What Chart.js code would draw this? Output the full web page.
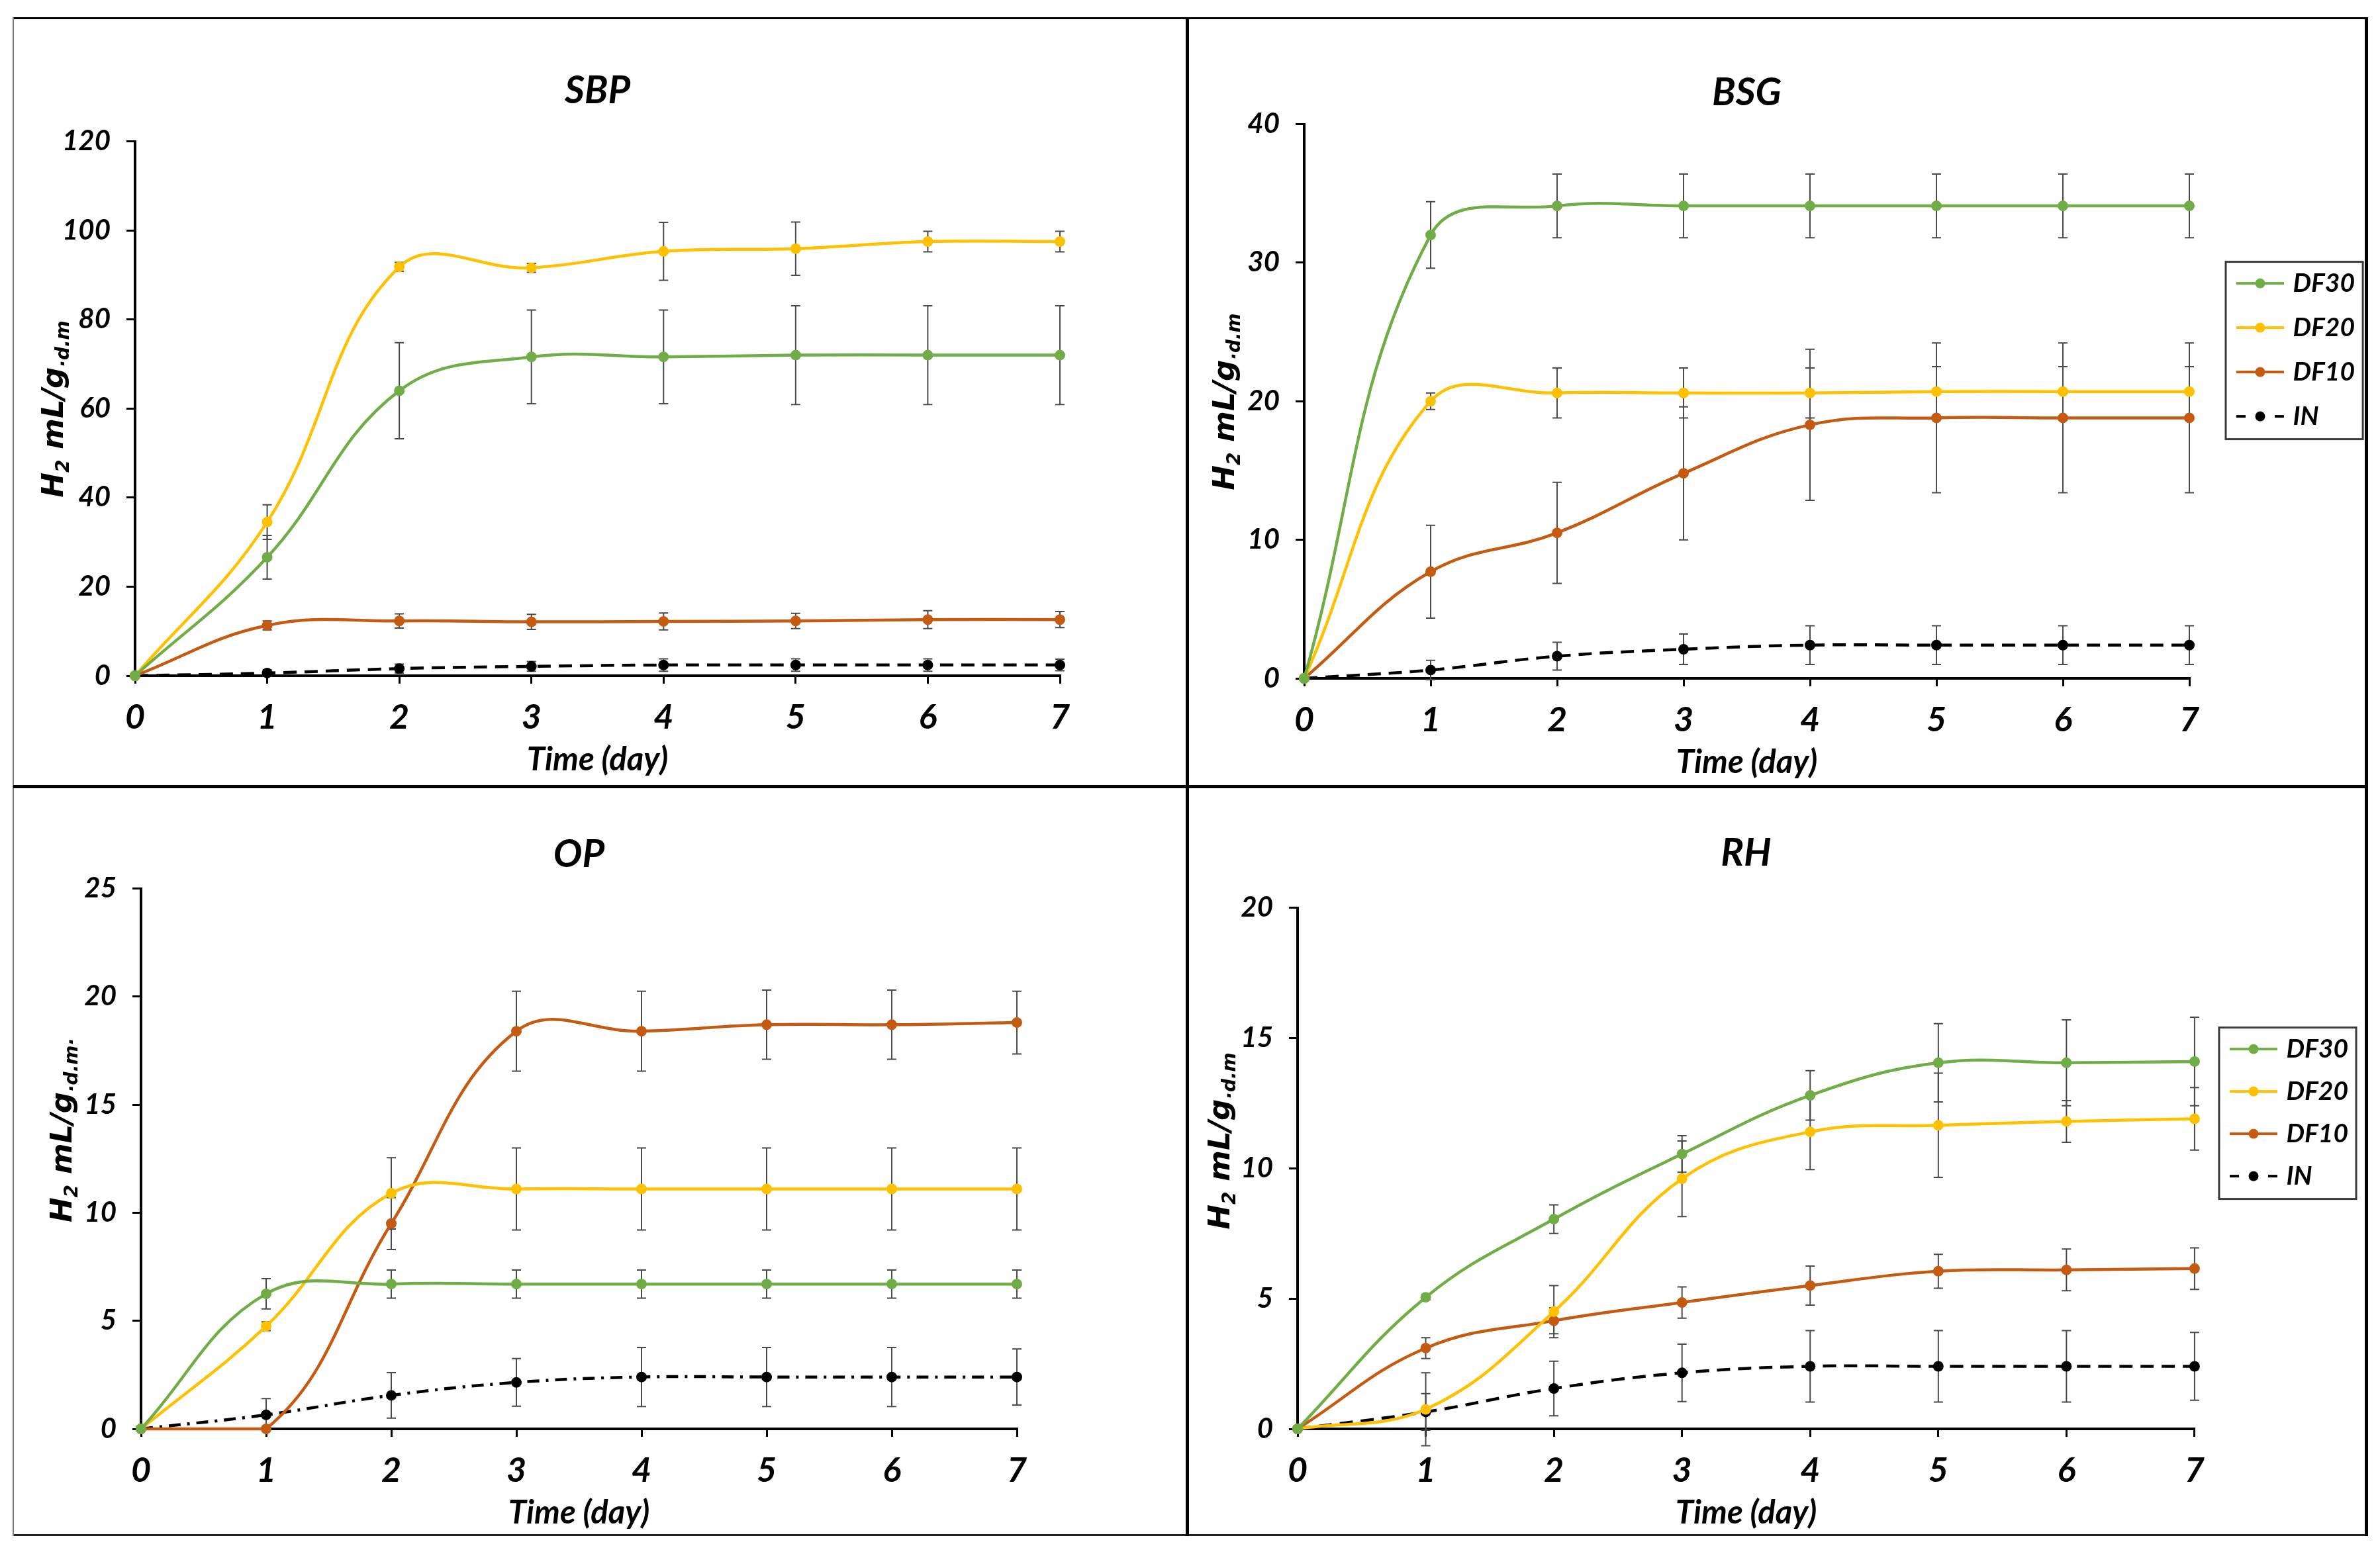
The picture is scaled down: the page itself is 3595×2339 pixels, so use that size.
<!DOCTYPE html>
<html lang="en">
<head>
    <meta charset="UTF-8">
    <title>H2 production - SBP, BSG, OP, RH</title>
    <script src="https://cdn.jsdelivr.net/npm/chart.js"></script>
    <style>
        html, body { margin: 0; padding: 0; background: #fff; }
        body { width: 3595px; height: 2339px; position: relative; overflow: hidden; }
        .panel { position: absolute; left: 0; top: 0; width: 3595px; height: 2339px; }
        .rule { position: absolute; z-index: 5; }
    </style>
</head>
<body>
    <!-- one full-size canvas per panel, the layout padding puts each chart in its cell -->
    <div class="panel"><canvas id="sbp"></canvas></div>
    <div class="panel"><canvas id="bsg"></canvas></div>
    <div class="panel"><canvas id="op"></canvas></div>
    <div class="panel"><canvas id="rh"></canvas></div>

    <!-- frame and dividers -->
    <div class="rule" style="left:20px;top:26px;width:3556px;height:3px;background:#000"></div>
    <div class="rule" style="left:20px;top:2318px;width:3556px;height:3px;background:#222"></div>
    <div class="rule" style="left:19px;top:26px;width:2px;height:2295px;background:#777"></div>
    <div class="rule" style="left:3572px;top:26px;width:5px;height:2295px;background:#000"></div>
    <div class="rule" style="left:1791px;top:26px;width:5px;height:2295px;background:#000"></div>
    <div class="rule" style="left:20px;top:1186px;width:3556px;height:5px;background:#000"></div>

    <script>
        // Time axis and series names
        const days = ['0', '1', '2', '3', '4', '5', '6', '7'];
        const seriesNames = ['DF30', 'DF20', 'DF10', 'IN'];

        // SBP
        const sbpDF30 = [0, 26.6, 64.0, 71.6, 71.6, 72.0, 72.0, 72.0];
        const sbpDF30Err = [0, 4.9, 10.8, 10.5, 10.5, 11.1, 11.1, 11.1];
        const sbpDF20 = [0, 34.5, 91.8, 91.6, 95.3, 95.9, 97.5, 97.5];
        const sbpDF20Err = [0, 3.9, 1.0, 1.0, 6.5, 6.0, 2.3, 2.3];
        const sbpDF10 = [0, 11.3, 12.3, 12.1, 12.2, 12.3, 12.6, 12.6];
        const sbpDF10Err = [0, 1.0, 1.6, 1.7, 1.9, 1.7, 2.0, 1.8];
        const sbpIN = [0, 0.6, 1.6, 2.1, 2.4, 2.4, 2.4, 2.4];
        const sbpINErr = [0, 0.7, 1.0, 1.1, 1.4, 1.4, 1.4, 1.3];

        // BSG
        const bsgDF30 = [0, 32.0, 34.1, 34.1, 34.1, 34.1, 34.1, 34.1];
        const bsgDF30Err = [0, 2.4, 2.3, 2.3, 2.3, 2.3, 2.3, 2.3];
        const bsgDF20 = [0, 20.0, 20.6, 20.6, 20.6, 20.7, 20.7, 20.7];
        const bsgDF20Err = [0, 0.6, 1.8, 1.8, 1.8, 1.8, 1.8, 1.8];
        const bsgDF10 = [0, 7.7, 10.5, 14.8, 18.3, 18.8, 18.8, 18.8];
        const bsgDF10Err = [0, 3.35, 3.65, 4.8, 5.45, 5.4, 5.4, 5.4];
        const bsgIN = [0, 0.6, 1.6, 2.1, 2.4, 2.4, 2.4, 2.4];
        const bsgINErr = [0, 0.7, 1.0, 1.1, 1.4, 1.4, 1.4, 1.4];

        // OP
        const opDF30 = [0, 6.25, 6.7, 6.7, 6.7, 6.7, 6.7, 6.7];
        const opDF30Err = [0, 0.7, 0.65, 0.65, 0.65, 0.65, 0.65, 0.65];
        const opDF20 = [0, 4.75, 10.9, 11.1, 11.1, 11.1, 11.1, 11.1];
        const opDF20Err = [0, 0.2, 1.65, 1.9, 1.9, 1.9, 1.9, 1.9];
        const opDF10 = [0, 0, 9.5, 18.4, 18.4, 18.7, 18.7, 18.8];
        const opDF10Err = [0, 0, 1.2, 1.85, 1.85, 1.6, 1.6, 1.45];
        const opIN = [0, 0.65, 1.55, 2.15, 2.4, 2.4, 2.4, 2.4];
        const opINErr = [0, 0.75, 1.05, 1.1, 1.37, 1.37, 1.37, 1.3];

        // RH
        const rhDF30 = [0, 5.05, 8.05, 10.55, 12.8, 14.05, 14.05, 14.1];
        const rhDF30Err = [0, 0.1, 0.55, 0.7, 0.95, 1.5, 1.65, 1.7];
        const rhDF20 = [0, 0.75, 4.5, 9.6, 11.4, 11.65, 11.8, 11.9];
        const rhDF20Err = [0, 1.4, 1.0, 1.45, 1.45, 2.0, 0.8, 1.2];
        const rhDF10 = [0, 3.1, 4.15, 4.85, 5.5, 6.05, 6.1, 6.15];
        const rhDF10Err = [0, 0.4, 0.5, 0.6, 0.75, 0.65, 0.8, 0.8];
        const rhIN = [0, 0.65, 1.55, 2.15, 2.4, 2.4, 2.4, 2.4];
        const rhINErr = [0, 0.7, 1.05, 1.1, 1.37, 1.37, 1.37, 1.3];

        const colors = ['#70AD47', '#FFC000', '#C55A11', '#000000'];
        const FONT = "Lato, 'Liberation Sans', sans-serif";
        const TITLE_FONT = "'DejaVu Sans', Verdana, sans-serif";

        // error bars, drawn under the lines
        const errorBarPlugin = {
            id: 'errorBars',
            beforeDatasetsDraw(chart) {
                const ctx = chart.ctx;
                const xs = chart.scales.x, ys = chart.scales.y;
                ctx.save();
                ctx.strokeStyle = '#4a4a4a';
                ctx.lineWidth = 2;
                chart.data.datasets.forEach(ds => {
                    ds.data.forEach((v, j) => {
                        const e = ds.errorBars[j];
                        if (!e) return;
                        const x = xs.getPixelForValue(j);
                        const y1 = ys.getPixelForValue(v + e);
                        const y2 = ys.getPixelForValue(v - e);
                        ctx.beginPath();
                        ctx.moveTo(x, y1); ctx.lineTo(x, y2);
                        ctx.moveTo(x - 7, y1); ctx.lineTo(x + 7, y1);
                        ctx.moveTo(x - 7, y2); ctx.lineTo(x + 7, y2);
                        ctx.stroke();
                    });
                });
                ctx.restore();
            }
        };

        // rotated y title with subscripts
        const yTitlePlugin = {
            id: 'yTitle',
            afterDraw(chart, args, opts) {
                if (!opts.parts) return;
                const ctx = chart.ctx;
                ctx.save();
                ctx.translate(opts.x, opts.y);
                ctx.rotate(-Math.PI / 2);
                ctx.fillStyle = '#000';
                ctx.textBaseline = 'alphabetic';
                const big = 'italic bold 45px ' + TITLE_FONT;
                const small = 'italic bold 28px ' + TITLE_FONT;
                let total = 0;
                opts.parts.forEach(p => { ctx.font = p.sub ? small : big; total += ctx.measureText(p.t).width; });
                let x = -total / 2;
                opts.parts.forEach(p => {
                    ctx.font = p.sub ? small : big;
                    ctx.fillText(p.t, x, p.sub ? 25 : 16);
                    x += ctx.measureText(p.t).width;
                });
                ctx.restore();
            }
        };

        // frame round the legend
        const legendFramePlugin = {
            id: 'legendFrame',
            afterDraw(chart) {
                const lg = chart.legend;
                if (!lg || !lg.options.display || !lg.legendHitBoxes.length) return;
                const hb = lg.legendHitBoxes;
                const l = Math.min(...hb.map(h => h.left)) - 22;
                const t = Math.min(...hb.map(h => h.top)) - 13;
                const r = Math.max(...hb.map(h => h.left + h.width)) + 12;
                const b = Math.max(...hb.map(h => h.top + h.height)) + 15;
                const ctx = chart.ctx;
                ctx.save();
                ctx.strokeStyle = '#3a3a3a';
                ctx.lineWidth = 3;
                ctx.strokeRect(l, t, r - l, b - t);
                ctx.restore();
            }
        };

        // line-with-marker symbol for the legend
        function legendSymbol(color, dashed) {
            const c = document.createElement('canvas');
            c.width = 72; c.height = 20;
            const g = c.getContext('2d');
            g.strokeStyle = color; g.fillStyle = color; g.lineWidth = 4;
            g.beginPath();
            if (dashed) {
                g.moveTo(0, 10); g.lineTo(14, 10);
                g.moveTo(58, 10); g.lineTo(72, 10);
            } else {
                g.moveTo(0, 10); g.lineTo(72, 10);
            }
            g.stroke();
            g.beginPath(); g.arc(36, 10, 7.5, 0, Math.PI * 2); g.fill();
            return c;
        }
        const symbols = colors.map((c, i) => legendSymbol(c, i === 3));

        function makeChart(id, p) {
            const datasets = p.series.map((s, i) => ({
                label: seriesNames[i],
                data: s[0],
                errorBars: s[1],
                borderColor: colors[i],
                backgroundColor: colors[i],
                pointBackgroundColor: colors[i],
                pointBorderWidth: 0,
                pointRadius: 8,
                borderWidth: 4.5,
                tension: 0.4,
                borderDash: i === 3 ? p.inDash : [],
                clip: false
            }));

            const font = size => ({ family: FONT, size: size, weight: 'bold', style: 'italic', lineHeight: 1.2 });

            return new Chart(document.getElementById(id), {
                type: 'line',
                data: { labels: days, datasets: datasets },
                plugins: [errorBarPlugin, yTitlePlugin, legendFramePlugin],
                options: {
                    responsive: true,
                    maintainAspectRatio: false,
                    animation: false,
                    layout: { padding: p.pad },
                    scales: {
                        x: {
                            type: 'category',
                            offset: false,
                            border: { color: '#000', width: 4 },
                            grid: { drawOnChartArea: false, tickLength: 12, color: '#000', lineWidth: 3 },
                            ticks: { font: font(52), color: '#000', padding: 20, maxRotation: 0, autoSkip: false },
                            title: { display: true, text: 'Time (day)', font: font(49), color: '#000', padding: { top: 0, bottom: 3 } },
                            afterFit: s => { s.height = 160; }
                        },
                        y: {
                            type: 'linear',
                            min: 0,
                            max: p.yMax,
                            border: { color: '#000', width: 4 },
                            grid: { drawOnChartArea: false, tickLength: 13, color: '#000', lineWidth: 3 },
                            ticks: { stepSize: p.yStep, font: font(42), color: '#000', padding: 24 },
                            afterFit: s => { s.width = 130; }
                        },
                        gap: {
                            type: 'linear',
                            position: 'right',
                            display: p.gap > 0,
                            ticks: { display: false },
                            grid: { display: false },
                            border: { display: false },
                            afterFit: s => { s.width = p.gap; }
                        }
                    },
                    plugins: {
                        title: {
                            display: true,
                            fullSize: false,
                            text: p.title,
                            color: '#000',
                            font: font(58),
                            padding: p.titlePad
                        },
                        legend: p.legend ? {
                            display: true,
                            position: 'right',
                            align: 'start',
                            fullSize: false,
                            maxWidth: 210,
                            title: { display: true, text: '', font: { size: 10, lineHeight: 1.2 }, padding: { top: p.legend.titleH - 12, bottom: 0 } },
                            labels: {
                                usePointStyle: true,
                                pointStyleWidth: 60,
                                padding: p.legend.pad,
                                color: '#000',
                                font: font(39),
                                generateLabels: chart => chart.data.datasets.map((ds, i) => ({
                                    text: ds.label,
                                    pointStyle: symbols[i],
                                    fillStyle: colors[i],
                                    strokeStyle: colors[i],
                                    lineWidth: 0,
                                    fontColor: '#000',
                                    hidden: false,
                                    datasetIndex: i
                                }))
                            }
                        } : { display: false },
                        tooltip: { enabled: false },
                        yTitle: p.yTitle
                    }
                }
            });
        }

        const H2 = ext => [
            { t: 'H', sub: false }, { t: '2', sub: true },
            { t: ' mL/g', sub: false }, { t: ext, sub: true }
        ];

        makeChart('sbp', {
            title: 'SBP', yMax: 120, yStep: 20,
            series: [[sbpDF30, sbpDF30Err], [sbpDF20, sbpDF20Err], [sbpDF10, sbpDF10Err], [sbpIN, sbpINErr]],
            inDash: [20, 12],
            pad: { left: 74, right: 1994, top: 0, bottom: 1158 },
            gap: 0,
            titlePad: { top: 102, bottom: 42 },
            legend: null,
            yTitle: { x: 79, y: 618, parts: H2('·d.m') }
        });

        makeChart('bsg', {
            title: 'BSG', yMax: 40, yStep: 10,
            series: [[bsgDF30, bsgDF30Err], [bsgDF20, bsgDF20Err], [bsgDF10, bsgDF10Err], [bsgIN, bsgINErr]],
            inDash: [20, 12],
            pad: { left: 1840, right: 29, top: 0, bottom: 1154 },
            gap: 49,
            titlePad: { top: 105, bottom: 13 },
            legend: { pad: 28, titleH: 193 },
            yTitle: { x: 1848, y: 607, parts: H2('·d.m') }
        });

        makeChart('op', {
            title: 'OP', yMax: 25, yStep: 5,
            series: [[opDF30, opDF30Err], [opDF20, opDF20Err], [opDF10, opDF10Err], [opIN, opINErr]],
            inDash: [18, 10, 4, 10],
            pad: { left: 83, right: 2059, top: 1190, bottom: 20 },
            gap: 0,
            titlePad: { top: 66, bottom: 17 },
            legend: null,
            yTitle: { x: 92, y: 1708, parts: H2('·d.m·') }
        });

        makeChart('rh', {
            title: 'RH', yMax: 20, yStep: 5,
            series: [[rhDF30, rhDF30Err], [rhDF20, rhDF20Err], [rhDF10, rhDF10Err], [rhIN, rhINErr]],
            inDash: [20, 12],
            pad: { left: 1830, right: 38, top: 1190, bottom: 20 },
            gap: 34,
            titlePad: { top: 64, bottom: 48 },
            legend: { pad: 25, titleH: 169 },
            yTitle: { x: 1841, y: 1724, parts: H2('·d.m') }
        });
    </script>
</body>
</html>
